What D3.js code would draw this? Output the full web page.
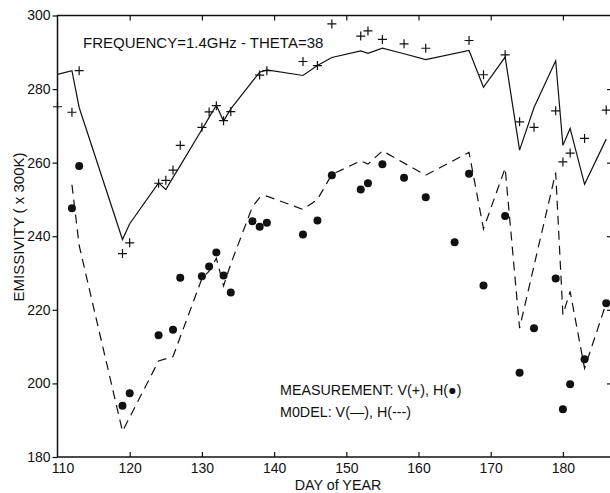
<!DOCTYPE html>
<html>
<head>
<meta charset="utf-8">
<script src="https://cdn.jsdelivr.net/npm/d3@7"></script>
<style>
  html, body { margin: 0; padding: 0; background: #fff; }
  svg { display: block; font-family: "Liberation Sans", Arial, Helvetica, sans-serif; }
</style>
</head>
<body>
<svg id="chart" width="610" height="493"></svg>
<script>
// ---- data ----
const vMeasDays = [110,112,113,119,120,124,125,126,127,130,131,132,133,134,138,139,144,146,148,152,153,155,158,161,167,169,172,174,176,179,180,181,183,186];
const vMeas     = [275.2,273.7,285.0,235.3,238.2,254.4,255.2,258.0,264.7,269.6,273.8,275.5,271.4,273.9,283.8,285.0,287.5,286.4,297.7,294.4,295.8,293.5,292.3,291.1,293.2,283.9,289.3,271.1,269.6,274.1,260.2,262.6,266.6,274.3];

const hMeasDays = [112,113,119,120,124,126,127,130,131,132,133,134,137,138,139,144,146,148,152,153,155,158,161,165,167,169,172,174,176,179,180,181,183,186];
const hMeas     = [247.6,259.1,193.9,197.3,213.1,214.6,228.7,229.1,231.8,235.6,229.3,224.7,244.1,242.6,243.7,240.5,244.3,256.6,252.7,254.4,259.6,255.9,250.6,238.4,257.0,226.6,245.5,202.9,215.0,228.5,193.0,199.8,206.6,221.8];

const vModelDays = [110,112,113,119,120,124,125,126,127,130,131,132,133,134,138,139,144,146,148,152,153,155,158,161,167,169,172,174,176,179,180,181,183,186];
const vModel     = [284.0,285.0,275.0,239.1,243.4,254.5,252.7,256.0,259.2,269.0,272.3,275.6,271.3,274.6,284.6,285.2,283.7,286.4,288.6,290.4,289.7,291.1,289.6,288.0,290.5,280.5,288.7,263.4,275.0,287.7,264.7,269.3,254.1,266.4];

const hModelDays = [112,113,119,120,124,126,127,130,131,132,133,134,137,138,139,144,146,148,152,153,155,161,167,169,172,174,176,179,180,181,183,186];
const hModel     = [254.0,237.5,187.0,190.8,206.1,207.3,212.6,228.5,230.5,234.0,226.5,232.5,248.0,250.5,250.9,247.3,250.0,256.8,260.5,259.6,263.2,256.6,262.8,242.0,258.5,215.0,232.0,257.3,218.7,225.0,204.1,221.8];

const xTicks = [110,120,130,140,150,160,170,180];
const yTicks = [180,200,220,240,260,280,300];
const titleText = "FREQUENCY=1.4GHz - THETA=38";
const legendLines = ["MEASUREMENT: V(+), H(\u25CF)", "M0DEL: V(\u2014), H(---)"];
const xLabel = "DAY of YEAR";
const yLabel = "EMISSIVITY ( x 300K)";

// ---- layout ----
const mLeft = 57.5, mRight = 612, mTop = 15.5, mBottom = 457;
const svg = d3.select("#chart");
const x = d3.scaleLinear().domain([110, 186.8]).range([mLeft, mRight]);
const y = d3.scaleLinear().domain([180, 300]).range([mBottom, mTop]);

const zip = (a, b) => a.map((d, i) => [d, b[i]]);

// ---- model lines ----
const line = d3.line().x(d => x(d[0])).y(d => y(d[1]));
svg.append("path").datum(zip(vModelDays, vModel))
  .attr("d", line).attr("fill", "none").attr("stroke", "#111").attr("stroke-width", 1.2)
  .attr("stroke-linejoin", "miter");
svg.append("path").datum(zip(hModelDays, hModel))
  .attr("d", line).attr("fill", "none").attr("stroke", "#111").attr("stroke-width", 1.2)
  .attr("stroke-dasharray", "9,6");

// ---- measurements ----
svg.append("g").selectAll("path").data(zip(vMeasDays, vMeas)).join("path")
  .attr("d", d => `M${x(d[0]) - 4.5},${y(d[1])}H${x(d[0]) + 4.5}M${x(d[0])},${y(d[1]) - 4.5}V${y(d[1]) + 4.5}`)
  .attr("stroke", "#111").attr("stroke-width", 1.2).attr("fill", "none");
svg.append("g").selectAll("circle").data(zip(hMeasDays, hMeas)).join("circle")
  .attr("cx", d => x(d[0])).attr("cy", d => y(d[1])).attr("r", 4).attr("fill", "#111");

// ---- axes ----
const axisStyle = g => {
  g.select(".domain").remove();
  g.selectAll(".tick line").attr("stroke", "#111").attr("stroke-width", 1.2);
  g.selectAll(".tick text").attr("fill", "#111").attr("font-size", 14)
    .attr("font-family", "'Liberation Sans', Arial, Helvetica, sans-serif");
};
const gx = svg.append("g").attr("transform", `translate(0,${mBottom})`)
  .call(d3.axisBottom(x).tickValues(xTicks).tickSize(-5).tickPadding(6).tickFormat(d3.format("d")))
  .call(axisStyle);
gx.selectAll(".tick").filter(d => d === 110).select("line").remove();
gx.selectAll(".tick").filter(d => d === 110).select("text").attr("dx", 5);

svg.append("g").attr("transform", `translate(0,${mTop})`)
  .call(d3.axisTop(x).tickValues(xTicks.slice(1)).tickSize(-5).tickFormat(""))
  .call(axisStyle);

svg.append("g").attr("transform", `translate(${mLeft},0)`)
  .call(d3.axisLeft(y).tickValues(yTicks).tickSize(5).tickPadding(2).tickFormat(d3.format("d")))
  .call(axisStyle);

svg.append("g").attr("transform", `translate(${mRight},0)`)
  .call(d3.axisRight(y).tickValues(yTicks.slice(1, -1)).tickSize(-5).tickFormat(""))
  .call(axisStyle);

// frame
svg.append("rect").attr("x", mLeft).attr("y", mTop)
  .attr("width", mRight - mLeft).attr("height", mBottom - mTop)
  .attr("fill", "none").attr("stroke", "#111").attr("stroke-width", 1.5);

// ---- texts ----
svg.append("text").attr("x", 83).attr("y", 48).attr("font-size", 15).attr("fill", "#111")
  .text(titleText);
svg.append("g").selectAll("text").data(legendLines).join("text")
  .attr("x", 280).attr("y", (d, i) => 395 + i * 22).attr("font-size", 14.3).attr("fill", "#111")
  .text(d => d);
svg.append("text").attr("x", 338).attr("y", 490).attr("text-anchor", "middle")
  .attr("font-size", 14.3).attr("fill", "#111").text(xLabel);
svg.append("text").attr("transform", "translate(24,227) rotate(-90)").attr("text-anchor", "middle")
  .attr("font-size", 15).attr("fill", "#111").text(yLabel);
</script>
</body>
</html>
